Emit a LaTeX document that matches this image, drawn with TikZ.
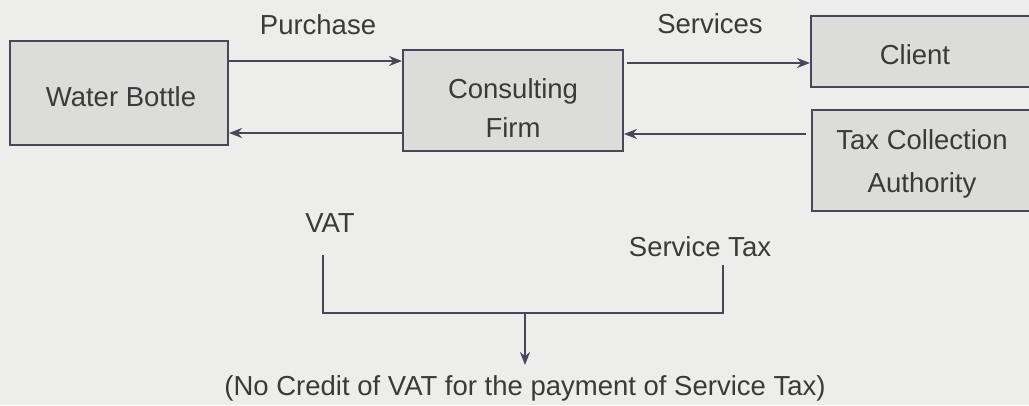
\documentclass[tikz,border=0pt]{standalone}
\usepackage{fontspec}
\setmainfont{Liberation Sans}
\usetikzlibrary{arrows.meta}
\definecolor{paper}{HTML}{EDEDEB}
\definecolor{boxfill}{HTML}{DCDCDA}
\definecolor{ink}{HTML}{4A4558}
\definecolor{txt}{HTML}{3A3A3A}
\begin{document}
\begin{tikzpicture}[x=1pt,y=-1pt,
  every node/.style={text=txt,font=\fontsize{27.5}{34}\selectfont},
  block/.style={draw=ink,line width=2pt,fill=boxfill,align=center,inner sep=0pt},
  lbl/.style={inner sep=0pt},
  arr/.style={draw=ink,line width=2pt,-{Stealth[length=13pt,width=10pt]}},
  ln/.style={draw=ink,line width=2pt}]
  \fill[paper] (0,0) rectangle (1029,405);
  \useasboundingbox (0,0) rectangle (1029,405);
  \clip (0,0) rectangle (1029,405);

  % boxes
  \node[block,minimum width=218pt,minimum height=104pt] (wb) at (119,93) {};
  \node[lbl] at (121,97) {Water Bottle};
  \node[block,minimum width=220pt,minimum height=101pt] (cf) at (513,100.5) {};
  \node[lbl,align=center] at (513,108) {Consulting\\[5pt]Firm};
  \node[block,minimum width=224pt,minimum height=71pt] (cl) at (923,51.5) {};
  \node[lbl] at (915,55) {Client};
  \node[block,minimum width=223pt,minimum height=101pt] (tx) at (923.5,160.5) {};
  \node[lbl,align=center] at (922,164) {Tax Collection\\[9pt]Authority};

  % flow labels
  \node[lbl] (pu) at (318,25) {Purchase};
  \node[lbl] (sv) at (710,24) {Services};

  % horizontal flows
  \draw[arr] (wb.east |- 0,61) -- (cf.west |- 0,61);
  \draw[arr] (cf.west |- 0,133) -- (wb.east |- 0,133);
  \draw[arr] (627,63) -- (cl.west |- 0,63);
  \draw[arr] (806,134) -- (cf.east |- 0,134);

  % taxes and their combination
  \node[lbl] (vat) at (330,223) {VAT};
  \node[lbl] (st) at (700,247) {Service Tax};
  \coordinate (vl) at (323,255);
  \coordinate (sl) at (723,265);
  \coordinate (jn) at (525,313);
  \node[lbl] (res) at (525,388) {(No Credit of VAT for the payment of Service Tax)};
  \draw[ln] (vl) -- (vl |- jn) -- (sl |- jn) -- (sl);
  \draw[arr] (jn) -- (525,365);
\end{tikzpicture}
\end{document}
